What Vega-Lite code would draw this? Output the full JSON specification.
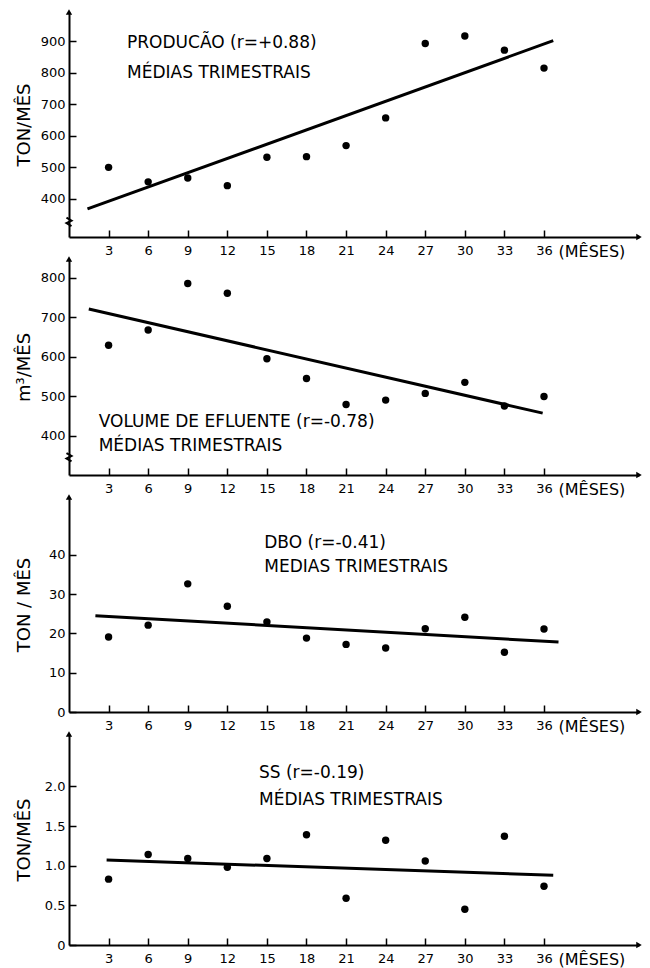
{
  "$schema": "https://vega.github.io/schema/vega-lite/v6.json",
  "background": "white",
  "padding": {"left": 15, "top": 9, "right": 2, "bottom": 0},
  "datasets": {
    "pts": [
      {"panel": 1, "month": 3, "value": 500}, {"panel": 1, "month": 6, "value": 454}, {"panel": 1, "month": 9, "value": 466}, {"panel": 1, "month": 12, "value": 442},
      {"panel": 1, "month": 15, "value": 532}, {"panel": 1, "month": 18, "value": 534}, {"panel": 1, "month": 21, "value": 569}, {"panel": 1, "month": 24, "value": 657},
      {"panel": 1, "month": 27, "value": 893}, {"panel": 1, "month": 30, "value": 917}, {"panel": 1, "month": 33, "value": 872}, {"panel": 1, "month": 36, "value": 815},
      {"panel": 2, "month": 3, "value": 629}, {"panel": 2, "month": 6, "value": 668}, {"panel": 2, "month": 9, "value": 786}, {"panel": 2, "month": 12, "value": 761},
      {"panel": 2, "month": 15, "value": 595}, {"panel": 2, "month": 18, "value": 545}, {"panel": 2, "month": 21, "value": 479}, {"panel": 2, "month": 24, "value": 490},
      {"panel": 2, "month": 27, "value": 507}, {"panel": 2, "month": 30, "value": 535}, {"panel": 2, "month": 33, "value": 475}, {"panel": 2, "month": 36, "value": 499},
      {"panel": 3, "month": 3, "value": 19.1}, {"panel": 3, "month": 6, "value": 22.1}, {"panel": 3, "month": 9, "value": 32.6}, {"panel": 3, "month": 12, "value": 26.9},
      {"panel": 3, "month": 15, "value": 22.9}, {"panel": 3, "month": 18, "value": 18.8}, {"panel": 3, "month": 21, "value": 17.2}, {"panel": 3, "month": 24, "value": 16.3},
      {"panel": 3, "month": 27, "value": 21.2}, {"panel": 3, "month": 30, "value": 24.1}, {"panel": 3, "month": 33, "value": 15.2}, {"panel": 3, "month": 36, "value": 21.1},
      {"panel": 4, "month": 3, "value": 0.83}, {"panel": 4, "month": 6, "value": 1.14}, {"panel": 4, "month": 9, "value": 1.09}, {"panel": 4, "month": 12, "value": 0.98},
      {"panel": 4, "month": 15, "value": 1.09}, {"panel": 4, "month": 18, "value": 1.39}, {"panel": 4, "month": 21, "value": 0.59}, {"panel": 4, "month": 24, "value": 1.32},
      {"panel": 4, "month": 27, "value": 1.06}, {"panel": 4, "month": 30, "value": 0.45}, {"panel": 4, "month": 33, "value": 1.37}, {"panel": 4, "month": 36, "value": 0.74}
    ],
    "fit": [
      {"panel": 1, "month": 1.4, "value": 368}, {"panel": 1, "month": 36.7, "value": 902},
      {"panel": 2, "month": 1.5, "value": 721}, {"panel": 2, "month": 35.9, "value": 457},
      {"panel": 3, "month": 2.0, "value": 24.5}, {"panel": 3, "month": 37.1, "value": 17.8},
      {"panel": 4, "month": 2.85, "value": 1.07}, {"panel": 4, "month": 36.7, "value": 0.88}
    ],
    "notes": [
      {"panel": 1, "month": 4.4, "value": 880, "text": "PRODUCÃO (r=+0.88)"},
      {"panel": 1, "month": 4.4, "value": 785, "text": "MÉDIAS  TRIMESTRAIS"},
      {"panel": 2, "month": 2.25, "value": 421, "text": "VOLUME DE EFLUENTE (r=-0.78)"},
      {"panel": 2, "month": 2.25, "value": 360, "text": "MÉDIAS  TRIMESTRAIS"},
      {"panel": 3, "month": 14.8, "value": 41.6, "text": "DBO (r=-0.41)"},
      {"panel": 3, "month": 14.8, "value": 35.6, "text": "MEDIAS  TRIMESTRAIS"},
      {"panel": 4, "month": 14.4, "value": 2.11, "text": "SS (r=-0.19)"},
      {"panel": 4, "month": 14.4, "value": 1.77, "text": "MÉDIAS  TRIMESTRAIS"}
    ]
  },
  "config": {
    "view": {"stroke": null},
    "font": "DejaVu Sans",
    "axis": {
      "grid": false,
      "domainColor": "black",
      "domainWidth": 2,
      "tickColor": "black",
      "tickWidth": 1.5,
      "labelColor": "black",
      "titleColor": "black",
      "labelFont": "DejaVu Sans",
      "labelFontSize": 13,
      "titleFont": "DejaVu Sans",
      "titleFontSize": 18,
      "titleFontWeight": "normal"
    },
    "axisY": {"tickSize": -7, "labelPadding": 11, "minExtent": 32, "maxExtent": 32, "titlePadding": 4},
    "axisX": {"tickSize": -7, "labelPadding": 14, "title": null},
    "text": {"font": "DejaVu Sans", "color": "black"}
  },
  "spacing": 22,
  "bounds": "flush",
  "resolve": {"scale": {"x": "independent", "y": "independent"}},
  "vconcat": [
    {
      "width": 570, "height": 225,
      "layer": [
        {
          "data": {"name": "pts"},
          "transform": [{"filter": "datum.panel == 1"}],
          "mark": {"type": "circle", "size": 55, "color": "black", "opacity": 1},
          "encoding": {
            "x": {"field": "month", "type": "quantitative", "scale": {"domain": [0, 43.2], "nice": false, "zero": false}, "axis": {"values": [3, 6, 9, 12, 15, 18, 21, 24, 27, 30, 33, 36], "title": null}},
            "y": {"field": "value", "type": "quantitative", "scale": {"domain": [279, 993], "nice": false, "zero": false}, "axis": {"values": [400, 500, 600, 700, 800, 900], "title": "TON/MÊS"}}
          }
        },
        {
          "data": {"name": "fit"},
          "transform": [{"filter": "datum.panel == 1"}],
          "mark": {"type": "line", "color": "black", "strokeWidth": 3},
          "encoding": {"x": {"field": "month", "type": "quantitative"}, "y": {"field": "value", "type": "quantitative"}}
        },
        {
          "data": {"name": "notes"},
          "transform": [{"filter": "datum.panel == 1"}],
          "mark": {"type": "text", "align": "left", "baseline": "alphabetic", "fontSize": 17},
          "encoding": {"x": {"field": "month", "type": "quantitative"}, "y": {"field": "value", "type": "quantitative"}, "text": {"field": "text"}}
        },
        {
          "data": {"values": [{}]},
          "mark": {"type": "point", "shape": "triangle-up", "filled": true, "size": 40, "color": "black", "opacity": 1},
          "encoding": {"x": {"datum": 0}, "y": {"datum": 993}}
        },
        {
          "data": {"values": [{}]},
          "mark": {"type": "point", "shape": "triangle-right", "filled": true, "size": 40, "color": "black", "opacity": 1},
          "encoding": {"x": {"datum": 43.2}, "y": {"datum": 279}}
        },
        {
          "data": {"values": [{}]},
          "mark": {"type": "point", "shape": "M-0.6,-1L0.6,-0.3L-0.6,0.3L0.6,1", "filled": false, "strokeWidth": 2, "size": 70, "color": "black", "opacity": 1},
          "encoding": {"x": {"datum": 0}, "y": {"datum": 327}}
        },
        {
          "data": {"values": [{}]},
          "mark": {"type": "text", "align": "left", "baseline": "top", "dy": 7, "fontSize": 16},
          "encoding": {"x": {"datum": 37.1}, "y": {"datum": 279}, "text": {"value": "(MÊSES)"}}
        }
      ]
    },
    {
      "width": 570, "height": 216,
      "layer": [
        {
          "data": {"name": "pts"},
          "transform": [{"filter": "datum.panel == 2"}],
          "mark": {"type": "circle", "size": 55, "color": "black", "opacity": 1},
          "encoding": {
            "x": {"field": "month", "type": "quantitative", "scale": {"domain": [0, 43.2], "nice": false, "zero": false}, "axis": {"values": [3, 6, 9, 12, 15, 18, 21, 24, 27, 30, 33, 36], "title": null}},
            "y": {"field": "value", "type": "quantitative", "scale": {"domain": [300, 848], "nice": false, "zero": false}, "axis": {"values": [400, 500, 600, 700, 800], "title": "m³/MÊS"}}
          }
        },
        {
          "data": {"name": "fit"},
          "transform": [{"filter": "datum.panel == 2"}],
          "mark": {"type": "line", "color": "black", "strokeWidth": 3},
          "encoding": {"x": {"field": "month", "type": "quantitative"}, "y": {"field": "value", "type": "quantitative"}}
        },
        {
          "data": {"name": "notes"},
          "transform": [{"filter": "datum.panel == 2"}],
          "mark": {"type": "text", "align": "left", "baseline": "alphabetic", "fontSize": 17},
          "encoding": {"x": {"field": "month", "type": "quantitative"}, "y": {"field": "value", "type": "quantitative"}, "text": {"field": "text"}}
        },
        {
          "data": {"values": [{}]},
          "mark": {"type": "point", "shape": "triangle-up", "filled": true, "size": 40, "color": "black", "opacity": 1},
          "encoding": {"x": {"datum": 0}, "y": {"datum": 848}}
        },
        {
          "data": {"values": [{}]},
          "mark": {"type": "point", "shape": "triangle-right", "filled": true, "size": 40, "color": "black", "opacity": 1},
          "encoding": {"x": {"datum": 43.2}, "y": {"datum": 300}}
        },
        {
          "data": {"values": [{}]},
          "mark": {"type": "point", "shape": "M-0.6,-1L0.6,-0.3L-0.6,0.3L0.6,1", "filled": false, "strokeWidth": 2, "size": 70, "color": "black", "opacity": 1},
          "encoding": {"x": {"datum": 0}, "y": {"datum": 345}}
        },
        {
          "data": {"values": [{}]},
          "mark": {"type": "text", "align": "left", "baseline": "top", "dy": 7, "fontSize": 16},
          "encoding": {"x": {"datum": 37.1}, "y": {"datum": 300}, "text": {"value": "(MÊSES)"}}
        }
      ]
    },
    {
      "width": 570, "height": 215,
      "layer": [
        {
          "data": {"name": "pts"},
          "transform": [{"filter": "datum.panel == 3"}],
          "mark": {"type": "circle", "size": 55, "color": "black", "opacity": 1},
          "encoding": {
            "x": {"field": "month", "type": "quantitative", "scale": {"domain": [0, 43.2], "nice": false, "zero": false}, "axis": {"values": [3, 6, 9, 12, 15, 18, 21, 24, 27, 30, 33, 36], "title": null}},
            "y": {"field": "value", "type": "quantitative", "scale": {"domain": [0, 54.7], "nice": false, "zero": false}, "axis": {"values": [0, 10, 20, 30, 40], "title": "TON / MÊS"}}
          }
        },
        {
          "data": {"name": "fit"},
          "transform": [{"filter": "datum.panel == 3"}],
          "mark": {"type": "line", "color": "black", "strokeWidth": 3},
          "encoding": {"x": {"field": "month", "type": "quantitative"}, "y": {"field": "value", "type": "quantitative"}}
        },
        {
          "data": {"name": "notes"},
          "transform": [{"filter": "datum.panel == 3"}],
          "mark": {"type": "text", "align": "left", "baseline": "alphabetic", "fontSize": 17},
          "encoding": {"x": {"field": "month", "type": "quantitative"}, "y": {"field": "value", "type": "quantitative"}, "text": {"field": "text"}}
        },
        {
          "data": {"values": [{}]},
          "mark": {"type": "point", "shape": "triangle-up", "filled": true, "size": 40, "color": "black", "opacity": 1},
          "encoding": {"x": {"datum": 0}, "y": {"datum": 54.7}}
        },
        {
          "data": {"values": [{}]},
          "mark": {"type": "point", "shape": "triangle-right", "filled": true, "size": 40, "color": "black", "opacity": 1},
          "encoding": {"x": {"datum": 43.2}, "y": {"datum": 0}}
        },
        {
          "data": {"values": [{}]},
          "mark": {"type": "text", "align": "left", "baseline": "top", "dy": 7, "fontSize": 16},
          "encoding": {"x": {"datum": 37.1}, "y": {"datum": 0}, "text": {"value": "(MÊSES)"}}
        }
      ]
    },
    {
      "width": 570, "height": 211,
      "layer": [
        {
          "data": {"name": "pts"},
          "transform": [{"filter": "datum.panel == 4"}],
          "mark": {"type": "circle", "size": 55, "color": "black", "opacity": 1},
          "encoding": {
            "x": {"field": "month", "type": "quantitative", "scale": {"domain": [0, 43.2], "nice": false, "zero": false}, "axis": {"values": [3, 6, 9, 12, 15, 18, 21, 24, 27, 30, 33, 36], "title": null}},
            "y": {"field": "value", "type": "quantitative", "scale": {"domain": [0, 2.66], "nice": false, "zero": false}, "axis": {"values": [0, 0.5, 1, 1.5, 2], "labelExpr": "datum.value == 0 ? '0' : format(datum.value, '.1f')", "title": "TON/MÊS"}}
          }
        },
        {
          "data": {"name": "fit"},
          "transform": [{"filter": "datum.panel == 4"}],
          "mark": {"type": "line", "color": "black", "strokeWidth": 3},
          "encoding": {"x": {"field": "month", "type": "quantitative"}, "y": {"field": "value", "type": "quantitative"}}
        },
        {
          "data": {"name": "notes"},
          "transform": [{"filter": "datum.panel == 4"}],
          "mark": {"type": "text", "align": "left", "baseline": "alphabetic", "fontSize": 17},
          "encoding": {"x": {"field": "month", "type": "quantitative"}, "y": {"field": "value", "type": "quantitative"}, "text": {"field": "text"}}
        },
        {
          "data": {"values": [{}]},
          "mark": {"type": "point", "shape": "triangle-up", "filled": true, "size": 40, "color": "black", "opacity": 1},
          "encoding": {"x": {"datum": 0}, "y": {"datum": 2.66}}
        },
        {
          "data": {"values": [{}]},
          "mark": {"type": "point", "shape": "triangle-right", "filled": true, "size": 40, "color": "black", "opacity": 1},
          "encoding": {"x": {"datum": 43.2}, "y": {"datum": 0}}
        },
        {
          "data": {"values": [{}]},
          "mark": {"type": "text", "align": "left", "baseline": "top", "dy": 7, "fontSize": 16},
          "encoding": {"x": {"datum": 37.1}, "y": {"datum": 0}, "text": {"value": "(MÊSES)"}}
        }
      ]
    }
  ]
}
